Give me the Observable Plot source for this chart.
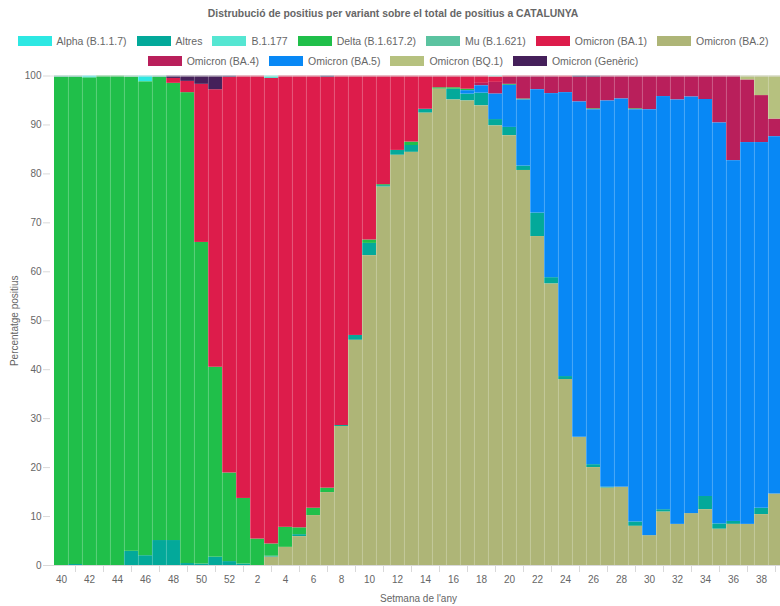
<!DOCTYPE html>
<html><head><meta charset="utf-8">
<script src="https://cdn.jsdelivr.net/npm/d3@7"></script>
<script src="https://cdn.jsdelivr.net/npm/@observablehq/plot@0.6"></script>
<style>
html,body{margin:0;padding:0;background:#fff;overflow:hidden;}
body{width:780px;height:606px;position:relative;font-family:"Liberation Sans",Arial,Helvetica,sans-serif;}
#title{position:absolute;top:7px;left:0;width:786px;text-align:center;font-weight:bold;font-size:10.4px;color:#666;line-height:14px;}
#legend{position:absolute;top:31px;left:0;width:786px;display:flex;flex-wrap:wrap;justify-content:center;}
.item{display:flex;align-items:center;height:20px;margin:0 5px;font-size:10.5px;color:#666;white-space:nowrap;}
.sw{width:34px;height:10px;box-sizing:border-box;margin-right:5px;}
#chart{position:absolute;top:70px;left:0;width:786px;}
#chart svg{max-width:none !important;}
</style></head>
<body>
<div id="title"></div><div id="legend"></div><div id="chart"></div>
<script>
const titleText = "Distrubució de positius per variant sobre el total de positius a CATALUNYA";
const xLabel = "Setmana de l'any";
const yLabel = "Percentatge positius";

const weeks = ["40","41","42","43","44","45","46","47","48","49","50","51","52",
  "1","2","3","4","5","6","7","8","9","10","11","12","13","14","15","16","17","18","19","20",
  "21","22","23","24","25","26","27","28","29","30","31","32","33","34","35","36","37","38","39"];
const labelWeeks = ["40","42","44","46","48","50","52","2","4","6","8","10","12","14","16","18","20","22","24","26","28","30","32","34","36","38"];
const tickWeeks = ["41","43","45","47","49","51","1","3","5","7","9","11","13","15","17","19","21","23","25","27","29","31","33","35","37","39"];
const yTicks = [0,10,20,30,40,50,60,70,80,90,100];

const variants = ["Alpha (B.1.1.7)","Altres","B.1.177","Delta (B.1.617.2)","Mu (B.1.621)","Omicron (BA.1)","Omicron (BA.2)","Omicron (BA.4)","Omicron (BA.5)","Omicron (BQ.1)","Omicron (Genèric)"];
const colors = ["#2de8e3","#03a99a","#55e6d2","#20bf4a","#5bc3a0","#dd1c4b","#aeb577","#b91f5b","#0888f5","#b6c17f","#45205a"];
const stackOrder = ["Omicron (BA.2)","Altres","Omicron (BA.5)","Delta (B.1.617.2)","Omicron (BA.4)","Omicron (BA.1)","Omicron (Genèric)","Mu (B.1.621)","B.1.177","Alpha (B.1.1.7)","Omicron (BQ.1)"];

//            40  41  42  43  44  45  46  47  48  49  50  51  52 | 1..39
const alpha = [0,0,0.4,0,0,0,1.2,0,0,0,0,0,0,
  0,0,0,0,0,0,0,0,0,0,0,0,0,0,0,0,0,0,0,0,0,0,0,0,0,0,0,0,0,0,0,0,0,0,0,0,0,0,0];
const altres = [0,0.2,0,0,0,2.9,2.0,5.1,5.1,0.4,0.3,1.7,0.8,
  0.3,0,0.2,0,0.4,0,0,0.2,1.0,2.5,0.3,1.0,1.4,0.8,0,2.2,1.4,2.6,1.3,1.7,0.9,4.8,1.3,0.6,0,0.6,0.2,0,0.9,0,0.5,0,0,2.7,1.1,0.6,0,1.3,0];
const b1177 = [0,0,0,0,0,0,0,0,0,0,0,0,0,
  0,0,0.5,0,0,0,0,0,0,0,0,0,0,0,0,0,0,0,0.2,0,0,0,0,0,0,0,0,0,0,0,0,0,0,0,0,0,0,0,0];
const delta = [99.7,99.5,99.6,100,100,96.9,96.8,94.6,93.4,96.2,65.7,38.8,18.1,
  13.4,5.4,2.5,4.1,1.4,1.5,0.9,0,0,0.7,0.2,0,0.7,0,0.3,0.3,0.3,0,0,0.2,0.2,0,0,0,0,0.2,0,0,0.2,0,0,0,0,0,0,0,0,0,0];
const mu = [0.3,0.3,0,0,0,0.2,0,0.3,0,0,0,0,0,
  0,0,0,0,0,0,0,0,0,0,0,0,0,0,0,0,0,0,0,0,0,0,0,0,0,0,0,0,0,0,0,0,0,0,0,0,0,0,0];
const ba1 = [0,0,0,0,0,0,0,0,1.0,2.3,32.3,56.7,80.8,
  86.3,94.6,95.1,92.2,92.3,88.3,83.9,71.4,53.0,33.5,22.2,15.2,13.5,6.8,2.4,2.4,2.7,1.5,1.1,0.3,0.1,0.1,0.1,0.3,0,0,0,0,0,0,0,0,0,0,0,0,0,0,0];
const ba2 = [0,0,0,0,0,0,0,0,0,0,0,0,0,
  0,0,1.7,3.7,5.9,10.2,14.9,28.4,46.0,63.3,77.3,83.8,84.4,92.4,97.3,95.1,94.9,93.9,89.8,87.8,80.7,67.2,57.5,38.0,26.2,20.0,15.8,16.0,8.0,6.1,10.9,8.4,10.6,11.4,7.4,8.4,8.4,10.4,14.6];
const ba4 = [0,0,0,0,0,0,0,0,0,0,0,0,0,
  0,0,0,0,0,0,0,0,0,0,0,0,0,0,0,0,0,0.5,2.4,1.4,4.6,2.7,3.5,3.1,5.0,6.4,5.1,4.7,6.7,6.9,4.2,4.9,4.3,4.8,9.6,17.3,12.8,9.6,3.6];
const ba5 = [0,0,0,0,0,0,0,0,0,0,0,0,0,
  0,0,0,0,0,0,0,0,0,0,0,0,0,0,0,0,0.7,1.5,5.2,8.6,13.5,25.2,37.6,58.0,68.5,72.5,78.9,79.3,84.2,87.0,84.4,86.7,85.1,81.1,81.9,73.7,78.0,74.7,73.0];
const bq1 = [0,0,0,0,0,0,0,0,0,0,0,0,0,
  0,0,0,0,0,0,0,0,0,0,0,0,0,0,0,0,0,0,0,0,0,0,0,0,0,0,0,0,0,0,0,0,0,0,0,0,0.8,4.0,8.8];
const generic = [0,0,0,0,0,0,0,0,0.5,1.1,1.7,2.8,0.3,
  0,0,0,0,0,0,0.3,0,0,0,0,0,0,0,0,0,0,0,0,0,0,0,0,0,0.3,0.3,0,0,0,0,0,0,0,0,0,0,0,0,0];

const series = [alpha, altres, b1177, delta, mu, ba1, ba2, ba4, ba5, bq1, generic];
const data = [];
variants.forEach((v, j) => series[j].forEach((val, i) => data.push({week: weeks[i], variant: v, value: val})));

document.getElementById("title").textContent = titleText;
const legend = d3.select("#legend");
variants.forEach((v, j) => {
  const it = legend.append("div").attr("class", "item");
  it.append("span").attr("class", "sw").style("background", colors[j]);
  it.append("span").text(v);
});

const W = 786, ML = 50;
const step = (W - ML) / weeks.length;
const font = "'Liberation Sans', Arial, Helvetica, sans-serif";

const chart = Plot.plot({
  width: W, height: 536,
  marginLeft: ML, marginRight: 0, marginTop: 5.5, marginBottom: 41,
  style: {fontFamily: font, fontSize: "10px", color: "#666", background: "transparent", overflow: "visible", maxWidth: "none"},
  x: {domain: weeks, padding: 0, label: null},
  y: {domain: [0, 100], label: null},
  color: {domain: variants, range: colors},
  marks: [
    Plot.barY(data, Plot.stackY({order: stackOrder}, {x: "week", y: "value", fill: "variant"})),
    Plot.ruleX(weeks.slice(1), {x: d => d, dx: -step / 2, stroke: "#fff", strokeOpacity: 0.28}),
    Plot.ruleY([100], {stroke: "#e4e4e4"}),
    Plot.ruleY([0], {stroke: "#d9d9d9"}),
    Plot.axisY({ticks: yTicks, tickSize: 7, tickPadding: 2, stroke: "#d9d9d9", fill: "#666",
      label: yLabel, labelAnchor: "center", labelArrow: "none", labelOffset: 40}),
    Plot.axisX({ticks: labelWeeks, tickSize: 0, tickPadding: 10, fill: "#666", label: xLabel,
      labelAnchor: "center", labelArrow: "none", labelOffset: 36}),
    Plot.axisX({ticks: tickWeeks, tickSize: 7, tickFormat: () => "", stroke: "#d9d9d9", label: null})
  ]
});
document.getElementById("chart").append(chart);
</script>
</body></html>
